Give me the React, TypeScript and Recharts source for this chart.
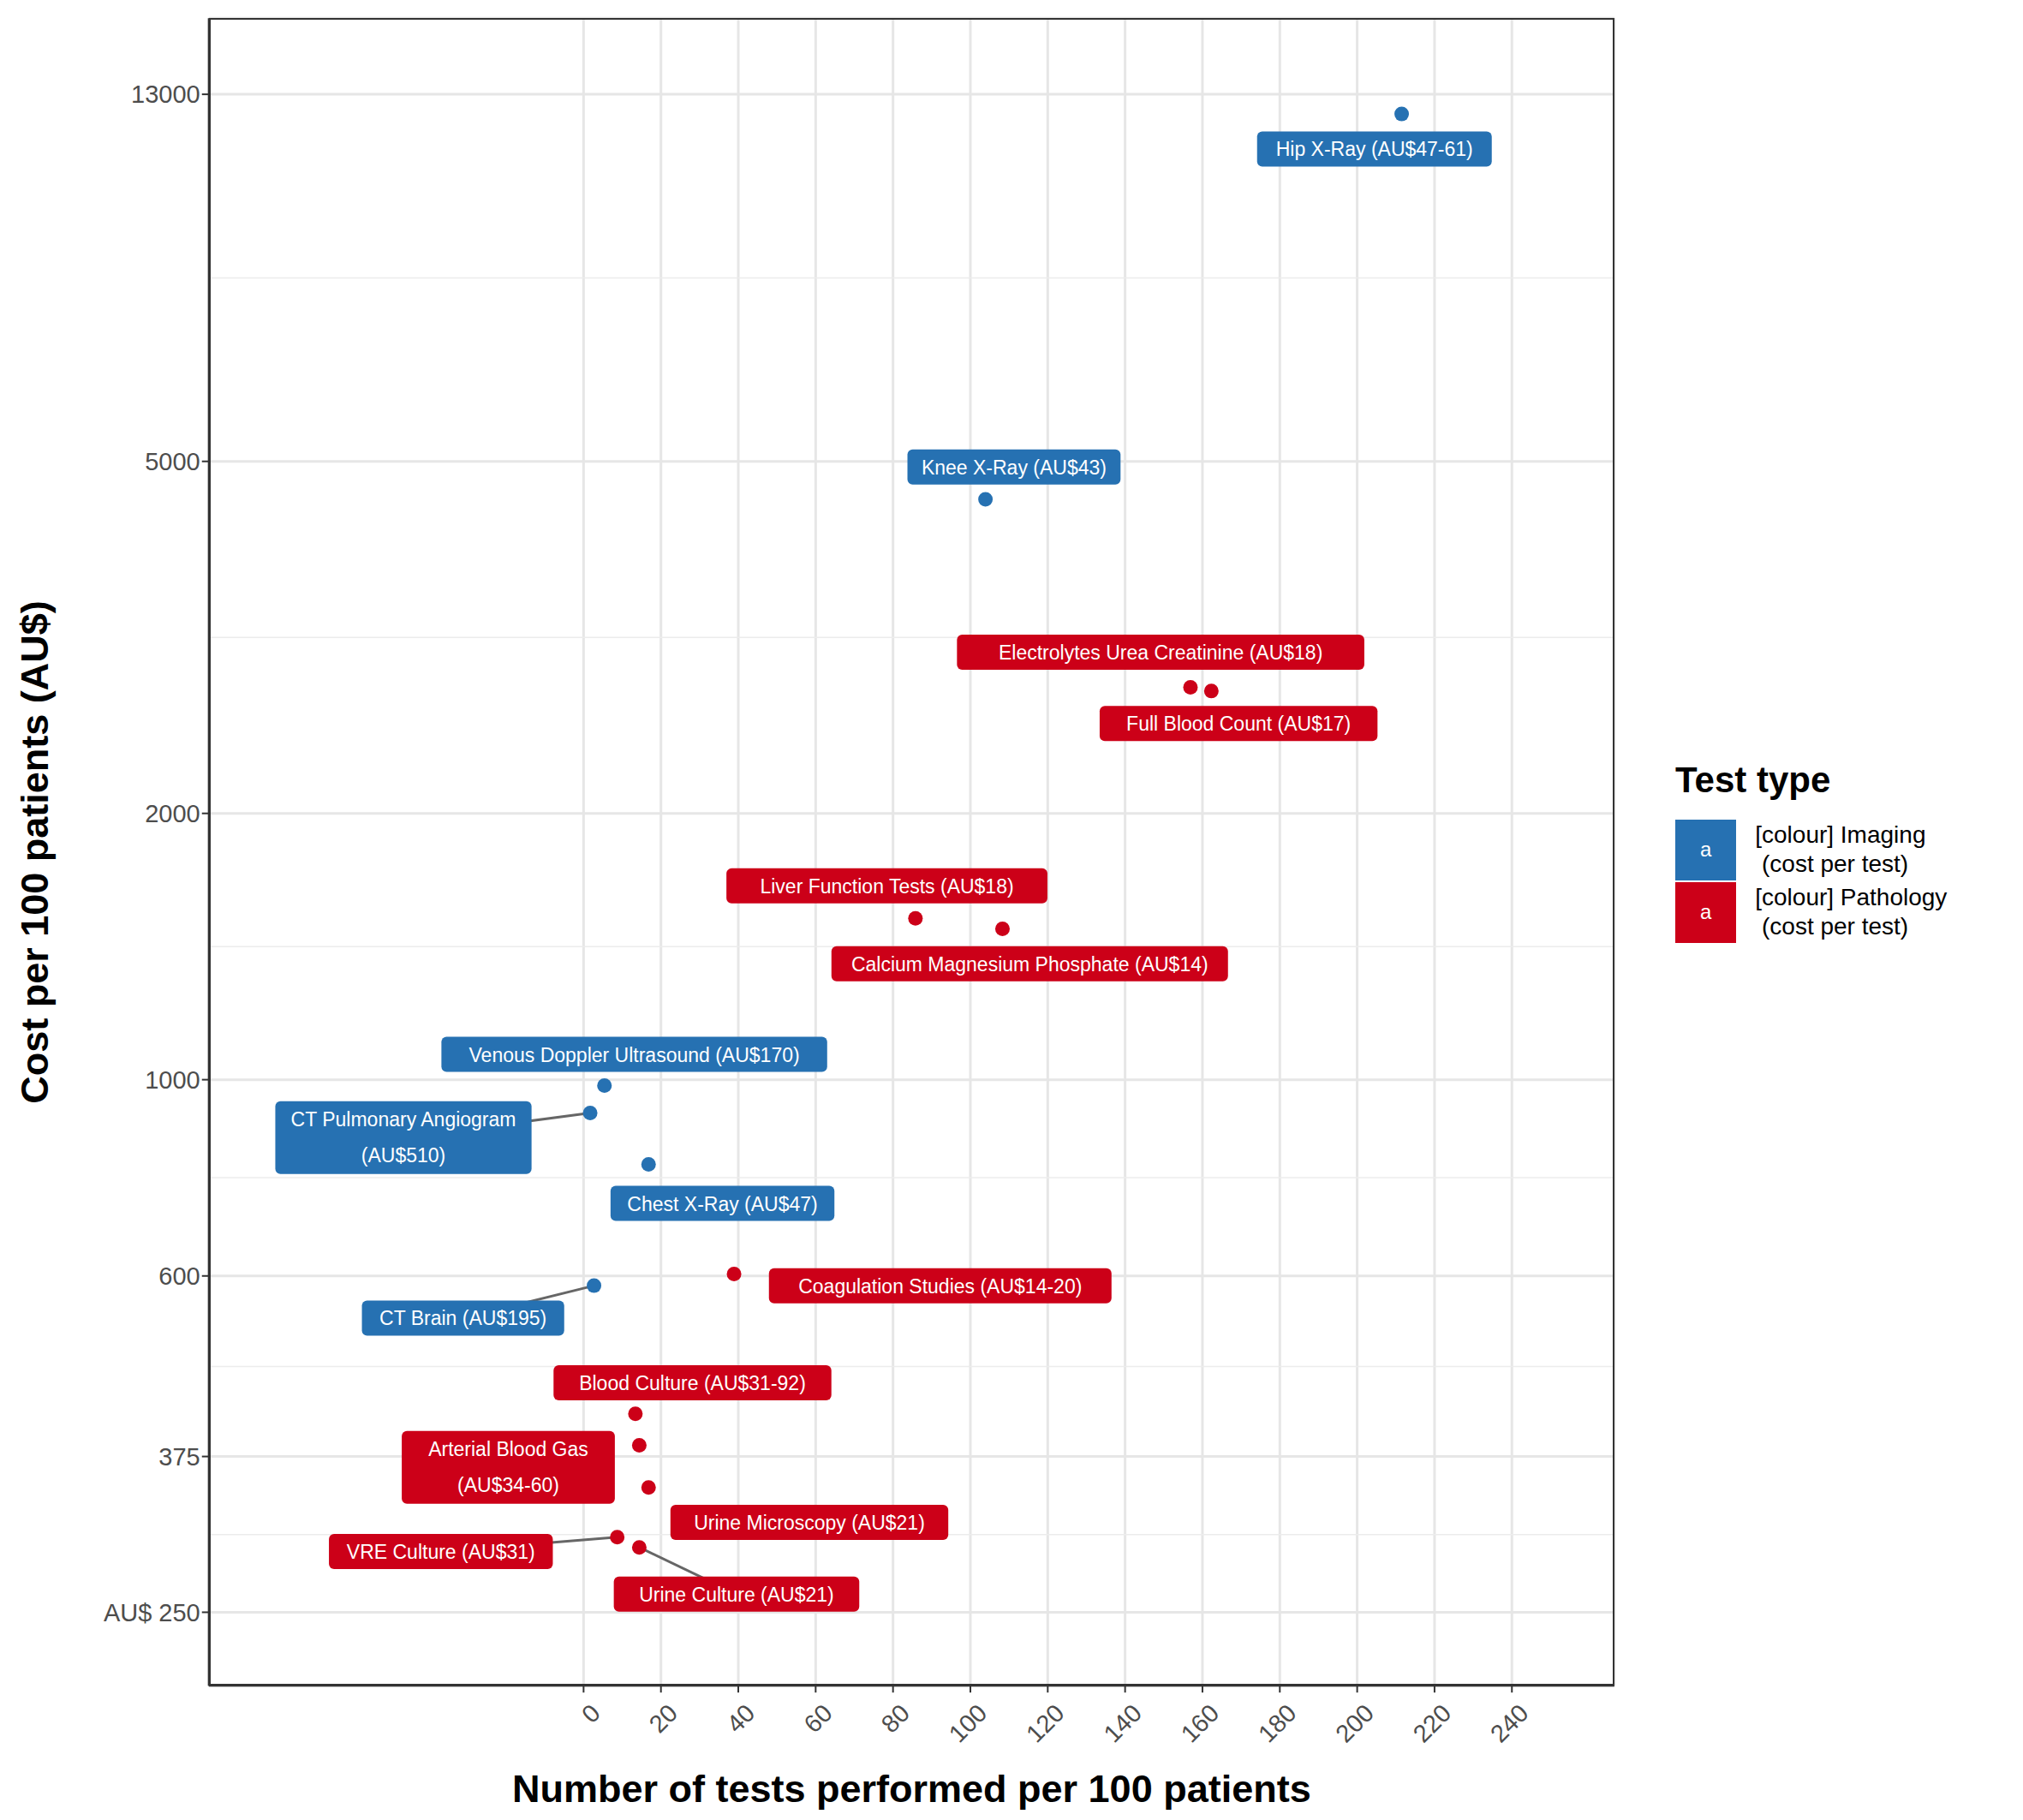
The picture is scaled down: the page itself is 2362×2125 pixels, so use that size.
import React from "react";
import { ScatterChart, Scatter, XAxis, YAxis, CartesianGrid, ReferenceLine } from "recharts";

const S = 1.514;
const BLUE = "#2671B2";
const RED = "#CC0018";

const imagingNames = ["Hip X-Ray (AU$47-61)", "Knee X-Ray (AU$43)", "Venous Doppler Ultrasound (AU$170)", "CT Pulmonary Angiogram\n(AU$510)", "Chest X-Ray (AU$47)", "CT Brain (AU$195)"];
const imagingX = [211.5, 103.9, 5.4, 1.7, 16.8, 2.7];
const imagingY = [12350, 4530, 985, 917, 802, 585];

const pathologyNames = ["Electrolytes Urea Creatinine (AU$18)", "Full Blood Count (AU$17)", "Liver Function Tests (AU$18)", "Calcium Magnesium Phosphate (AU$14)", "Coagulation Studies (AU$14-20)", "Blood Culture (AU$31-92)", "Arterial Blood Gas\n(AU$34-60)", "Urine Microscopy (AU$21)", "VRE Culture (AU$31)", "Urine Culture (AU$21)"];
const pathologyX = [156.9, 162.3, 85.8, 108.3, 38.9, 13.4, 14.4, 16.8, 8.7, 14.4];
const pathologyY = [2777, 2750, 1522, 1481, 603, 419, 386, 346, 304, 296];

const xTicks = [0, 20, 40, 60, 80, 100, 120, 140, 160, 180, 200, 220, 240];
const yTicks = [250, 375, 600, 1000, 2000, 5000, 13000];
const yMinor = [306, 474, 775, 1414, 3162, 8062];

// label offsets (display px) and connector flags
const labelOffsets: Record<string, [number, number, boolean]> = {
  "Hip X-Ray (AU$47-61)": [-21, 27, false],
  "Knee X-Ray (AU$43)": [22, -25, false],
  "Venous Doppler Ultrasound (AU$170)": [23, -24, false],
  "CT Pulmonary Angiogram\n(AU$510)": [-144, 19, true],
  "Chest X-Ray (AU$47)": [57, 30, false],
  "CT Brain (AU$195)": [-101, 25, true],
  "Electrolytes Urea Creatinine (AU$18)": [-23, -27, false],
  "Full Blood Count (AU$17)": [21, 25, false],
  "Liver Function Tests (AU$18)": [-22, -25, false],
  "Calcium Magnesium Phosphate (AU$14)": [21, 27, false],
  "Coagulation Studies (AU$14-20)": [159, 9, false],
  "Blood Culture (AU$31-92)": [44, -24, false],
  "Arterial Blood Gas\n(AU$34-60)": [-101, 17, false],
  "Urine Microscopy (AU$21)": [124, 27, false],
  "VRE Culture (AU$31)": [-136, 11, true],
  "Urine Culture (AU$21)": [75, 36, true],
};

const imagingData = imagingNames.map((n, i) => ({ name: n, x: imagingX[i], y: imagingY[i] }));
const pathologyData = pathologyNames.map((n, i) => ({ name: n, x: pathologyX[i], y: pathologyY[i] }));

const FONT = "'Liberation Sans', Arial, sans-serif";

const makeShape = (color: string) => (props: any) => {
  const { cx, cy, payload } = props;
  const name: string = payload.name;
  const [dx, dy, conn] = labelOffsets[name] || [0, 0, false];
  const lines = name.split("\n");
  const maxLen = Math.max(...lines.map((l) => l.length));
  const w = maxLen * 12.6 + 22;
  const h = lines.length === 1 ? 41 : 85;
  const lx = cx + dx * S;
  const ly = cy + dy * S;
  return (
    <g>
      {conn && <line x1={cx} y1={cy} x2={lx} y2={ly} stroke="#666" strokeWidth={3} />}
      <rect x={lx - w / 2} y={ly - h / 2} width={w} height={h} rx={6} fill={color} />
      {lines.map((l, i) => (
        <text key={i} x={lx} y={ly - h / 2 + 29 + i * 42} textAnchor="middle" fill="#fff" fontSize={23} fontFamily={FONT}>
          {l}
        </text>
      ))}
      <circle cx={cx} cy={cy} r={8.5} fill={color} />
    </g>
  );
};

const XTick = (props: any) => {
  const { x, y, payload } = props;
  return (
    <g transform={`translate(${x},${y + 14})`}>
      <text transform="rotate(-45)" textAnchor="end" dy={22} dx={8} fill="#4d4d4d" fontSize={29} fontFamily={FONT}>
        {payload.value}
      </text>
    </g>
  );
};

export default function App() {
  const plotL = 161 * S, plotR = 1245 * S, plotT = 14 * S, plotB = 1300 * S;
  return (
    <div style={{ position: "absolute", left: 0, top: 0, width: 2362, height: 2125, background: "#fff", fontFamily: FONT }}>
      <ScatterChart width={2362} height={2125} margin={{ top: plotT, right: 2362 - plotR, bottom: 0, left: 0 }}>
        <CartesianGrid stroke="#e6e6e6" strokeWidth={3} />
        {yMinor.map((v) => (
          <ReferenceLine key={v} y={v} stroke="#ececec" strokeWidth={1.5} />
        ))}
        <XAxis type="number" dataKey="x" domain={[-96.9, 266.5]} ticks={xTicks} allowDataOverflow height={2125 - plotB}
          tick={<XTick />} tickLine={{ stroke: "#333", strokeWidth: 2 }} tickSize={8} axisLine={{ stroke: "#333", strokeWidth: 2 }} />
        <YAxis type="number" dataKey="y" scale="log" domain={[206.5, 15850]} ticks={yTicks} allowDataOverflow width={plotL}
          tickFormatter={(v: number) => (v === 250 ? "AU$ 250" : String(v))}
          tick={{ fill: "#4d4d4d", fontSize: 29, fontFamily: FONT }} tickLine={{ stroke: "#333", strokeWidth: 2 }} tickSize={8}
          axisLine={{ stroke: "#333", strokeWidth: 2 }} />
        <Scatter data={imagingData} fill={BLUE} shape={makeShape(BLUE)} isAnimationActive={false} />
        <Scatter data={pathologyData} fill={RED} shape={makeShape(RED)} isAnimationActive={false} />
      </ScatterChart>
      <div style={{ position: "absolute", left: plotL, top: plotT, width: plotR - plotL, height: plotB - plotT, border: "2px solid #333", boxSizing: "border-box", pointerEvents: "none" }} />
      <div style={{ position: "absolute", left: 703 * S, top: 1380 * S, transform: "translate(-50%,-50%)", fontSize: 45, fontWeight: "bold", whiteSpace: "nowrap" }}>
        Number of tests performed per 100 patients
      </div>
      <div style={{ position: "absolute", left: 27 * S, top: 657 * S, transform: "translate(-50%,-50%) rotate(-90deg)", fontSize: 45, fontWeight: "bold", whiteSpace: "nowrap" }}>
        Cost per 100 patients (AU$)
      </div>
      <div style={{ position: "absolute", left: 1292 * S, top: 586 * S, fontSize: 42, fontWeight: "bold" }}>Test type</div>
      {[["[colour] Imaging", BLUE], ["[colour] Pathology", RED]].map(([t, c], i) => (
        <div key={i} style={{ position: "absolute", left: 1292 * S, top: (632 + i * 48) * S, display: "flex", alignItems: "center" }}>
          <div style={{ width: 47 * S, height: 47 * S, background: c as string, color: "#fff", fontSize: 24, display: "flex", alignItems: "center", justifyContent: "center" }}>a</div>
          <div style={{ marginLeft: 22, fontSize: 28, lineHeight: "34px", whiteSpace: "pre" }}>{`${t}\n (cost per test)`}</div>
        </div>
      ))}
    </div>
  );
}
